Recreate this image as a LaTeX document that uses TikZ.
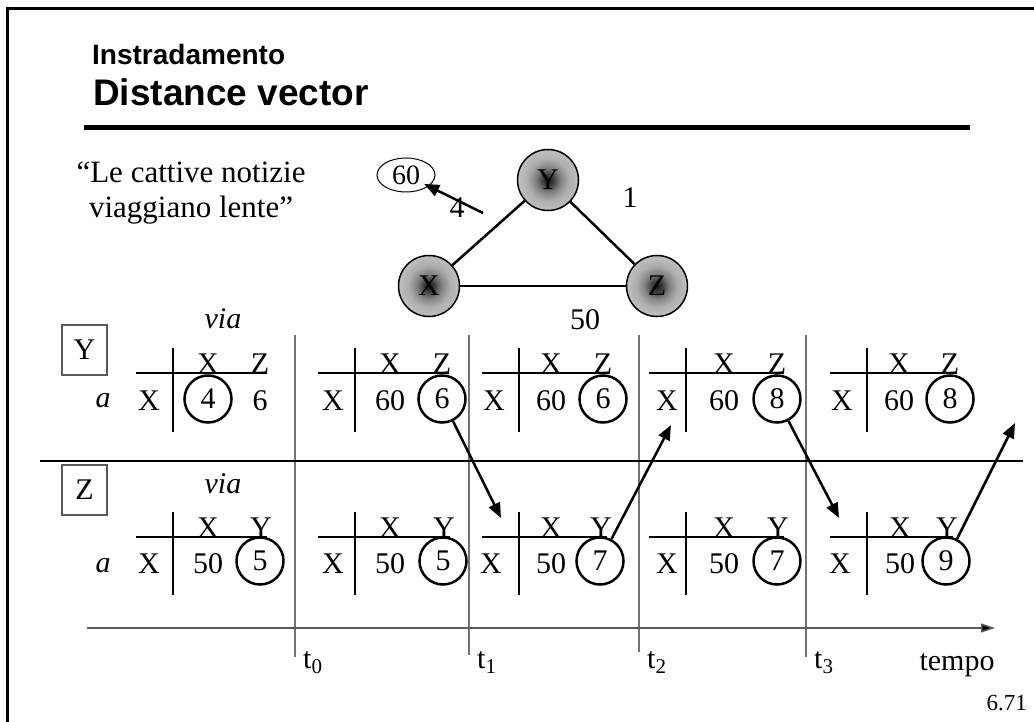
\documentclass[tikz,border=0pt]{standalone}
\usepackage{fontspec}
\setmainfont{Liberation Serif}
\newfontfamily\titlefont{Liberation Sans}
\usetikzlibrary{arrows.meta,shapes.geometric}
\pgfdeclareradialshading{routerball}{\pgfpoint{0bp}{0bp}}{color(0bp)=(black!90); color(4bp)=(black!78); color(10bp)=(black!50); color(17bp)=(black!32); color(25bp)=(black!25); color(50bp)=(black!25)}
\newcommand\sz[1]{\fontsize{#1}{#1}\selectfont}
\begin{document}
\begin{tikzpicture}[x=1pt,y=-1pt,
  txt/.style={inner sep=0, font=\sz{30}},
  router/.style={circle, draw, line width=1.5, minimum size=61, inner sep=0, shading=routerball, font=\sz{30}},
  circ/.style={circle, draw, line width=2.5, minimum size=47, inner sep=0, font=\sz{30}},
  tline/.style={line width=2.2},
  sep/.style={draw=black!55, line width=1.5},
  edge/.style={line width=2.5},
  msg/.style={line width=2.5, -{Triangle[length=15pt,width=12pt]}},
  lbox/.style={draw=black!65, line width=1.2, minimum width=45, minimum height=50, inner sep=0, font=\sz{30}}]
\useasboundingbox (0,0) rectangle (1034,722);
% frame
\draw[line width=2.5] (7.5,722) -- (7.5,8.5) -- (1034,8.5);
% title
\node[anchor=base west, inner sep=0, font=\titlefont\bfseries\sz{28}] (t1) at (92,65) {Instradamento};
\node[anchor=base west, inner sep=0, font=\titlefont\bfseries\sz{37}] (t2) at (93,106) {Distance vector};
\draw[line width=5] (84,127.5) -- (970,127.5);
% quote
\node[txt, anchor=base, font=\sz{31}] (q1) at (191,183) {“Le cattive notizie};
\node[txt, anchor=base, font=\sz{31}] (q2) at (191,218) {viaggiano lente”};
% graph
\node[router] (Y) at (548,180) {Y};
\node[router] (X) at (429,286) {X};
\node[router] (Z) at (657,286) {Z};
\draw[edge] (X) -- (Y);
\draw[edge] (Y) -- (Z);
\draw[edge] (X) -- (Z);
\node[txt] (w1) at (630,198) {1};
\node[txt] (w50) at (585,320) {50};
\node[txt] (w4) at (457,208) {4};
\node[ellipse, draw, line width=1, minimum width=58, minimum height=34, inner sep=0, font=\sz{28}] (sixty) at (406,175) {60};
\coordinate (s0) at (483,213);
\draw[msg, shorten >=-5pt] (s0) -- (sixty);
% row labels
\node[txt, font=\itshape\sz{30}, anchor=base] (via1) at (223,328) {via};
\node[txt, font=\itshape\sz{30}, anchor=base] (via2) at (223,493) {via};
\node[lbox] (ybox) at (84.5,350) {Y};
\node[lbox] (zbox) at (84.5,490) {Z};
\node[txt, font=\itshape\sz{30}, anchor=base] (ay) at (103,407) {a};
\node[txt, font=\itshape\sz{30}, anchor=base] (az) at (103,572) {a};
% separators
\foreach \s/\e [count=\i] in {295/657, 469/655, 639/652, 806/657} {
  \draw[sep] (\s,335) -- (\s,\e);
}
\draw[line width=1.4] (40,461) -- (1023,461);
% time axis
\coordinate (ax0) at (87,628);
\coordinate (ax1) at (995,628);
\draw[draw=black!65, line width=1.5, -{Triangle[length=14pt,width=9pt,fill=black]}] (ax0) -- (ax1);
\foreach \s/\k in {295/0, 469/1, 639/2, 806/3} {
  \node[txt, anchor=base west] (tl\k) at (\s+8,668) {t\raisebox{-5pt}{\sz{21}\k}};
}
\node[txt, anchor=base] (tempo) at (957,670) {tempo};
\node[txt, anchor=base east, font=\sz{23}] (page) at (1027,710) {6.71};
% Y tables
\foreach \n/\v/\ca/\cb/\rl/\b in {1/173/208/260/149/6, 2/355/390/442/333/6, 3/519/551/603/494/6, 4/686/724/777/667/8, 5/867/899/950/842/8} {
  \draw[tline] (\v-37,373) -- (\cb+7,373);
  \draw[tline] (\v,348) -- (\v,432);
  \node[txt, anchor=base] (yhx\n) at (\ca,373) {X};
  \node[txt, anchor=base] (yhz\n) at (\cb,373) {Z};
  \node[txt, anchor=base] (yrx\n) at (\rl,410) {X};
}
\node[circ] (yc1) at (208,399) {4};
\node[txt, anchor=base] (yv1) at (260,410) {6};
\foreach \n/\ca/\cb/\b in {2/390/442/6, 3/551/603/6, 4/724/777/8, 5/899/950/8} {
  \node[txt, anchor=base] (yv\n) at (\ca,410) {60};
  \node[circ] (yc\n) at (\cb,399) {\b};
}
% Z tables
\foreach \n/\v/\ca/\cb/\rl/\b in {1/173/208/260/149/5, 2/355/390/443/333/5, 3/519/551/600/491/7, 4/686/724/777/667/7, 5/867/900/946/840/9} {
  \draw[tline] (\v-37,537) -- (\cb+7,537);
  \draw[tline] (\v,512) -- (\v,595);
  \node[txt, anchor=base] (zhx\n) at (\ca,537) {X};
  \node[txt, anchor=base] (zhy\n) at (\cb+1,537) {Y};
  \node[txt, anchor=base] (zrx\n) at (\rl,573) {X};
  \node[txt, anchor=base] (zv\n) at (\ca,573) {50};
  \node[circ] (zc\n) at (\cb,561) {\b};
}
% messages
\coordinate (m1) at (501,518);
\coordinate (m2) at (671,425);
\coordinate (m3) at (839,518);
\coordinate (m4) at (1015,423);
\draw[msg] (yc2) -- (m1);
\draw[msg] (zc3) -- (m2);
\draw[msg] (yc4) -- (m3);
\draw[msg] (zc5) -- (m4);
\end{tikzpicture}
\end{document}
